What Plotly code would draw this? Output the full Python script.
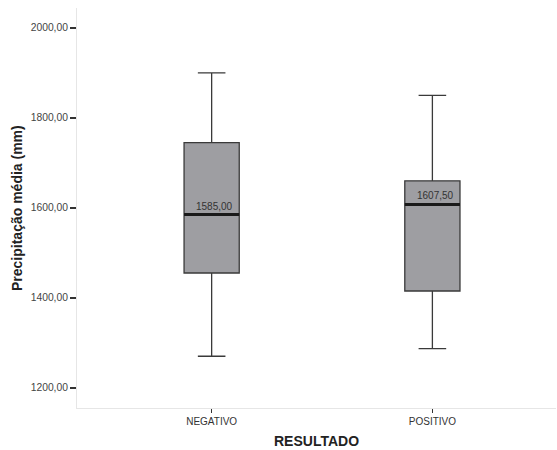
import plotly.graph_objects as go

categories = ["NEGATIVO", "POSITIVO"]
lower_whisker = [1270.0, 1287.0]
q1 = [1455.0, 1415.0]
median = [1585.0, 1607.5]
q3 = [1745.0, 1660.0]
upper_whisker = [1900.0, 1850.0]
ytick_vals = [1200, 1400, 1600, 1800, 2000]

positions = list(range(len(categories)))
box_w = 0.25

fig = go.Figure()
fig.add_trace(go.Box(
    x=positions, q1=q1, median=median, q3=q3,
    lowerfence=lower_whisker, upperfence=upper_whisker,
    width=box_w, whiskerwidth=0.5,
    fillcolor="#9e9ea2", line=dict(color="#3a3a3a", width=1.3),
    boxpoints=False, hoverinfo="skip", showlegend=False,
))
for i, m in zip(positions, median):
    fig.add_trace(go.Scatter(
        x=[i - box_w / 2, i + box_w / 2], y=[m, m], mode="lines",
        line=dict(color="#1a1a1a", width=3), showlegend=False, hoverinfo="skip",
    ))
    fig.add_annotation(
        x=i + box_w / 2, y=m, text=f"{m:.2f}".replace(".", ","),
        showarrow=False, xanchor="right", yanchor="bottom", yshift=1, xshift=-4,
        font=dict(family="Liberation Sans, Arial", size=10, color="#333"),
    )

fig.add_annotation(
    text="<b>RESULTADO</b>", xref="paper", yref="paper", x=0.5, y=0,
    yshift=-33, xanchor="center", yanchor="middle", showarrow=False,
    font=dict(size=14, color="#222"),
)
fig.add_annotation(
    text="<b>Precipitação média (mm)</b>", xref="paper", yref="paper", x=0, y=0.5,
    xshift=-60, textangle=-90, xanchor="center", yanchor="middle", showarrow=False,
    font=dict(size=14, color="#222"),
)

fig.update_layout(
    width=557, height=450,
    margin=dict(l=77, r=1, t=8, b=42, autoexpand=False),
    paper_bgcolor="white", plot_bgcolor="white",
    separators=",.",
    font=dict(family="Liberation Sans, Arial", color="#333"),
    xaxis=dict(
        range=[-0.61, 1.56], tickvals=positions, ticktext=categories,
        showgrid=False, zeroline=False, showline=True, linecolor="#e6e6e6", linewidth=1,
        ticks="outside", ticklen=4, tickcolor="#333", tickwidth=1,
        tickfont=dict(size=10, color="#333"), automargin=False,
    ),
    yaxis=dict(
        range=[1155, 2044], tickvals=ytick_vals, tickformat=".2f",
        showgrid=False, zeroline=False, showline=True, linecolor="#e6e6e6", linewidth=1,
        ticks="outside", ticklen=6, tickcolor="#333", tickwidth=1.5,
        tickfont=dict(size=10.3, color="#444"), automargin=False,
    ),
)
fig.write_html("out.html", config={"displayModeBar": False},
               post_script="document.body.style.margin='0';")
